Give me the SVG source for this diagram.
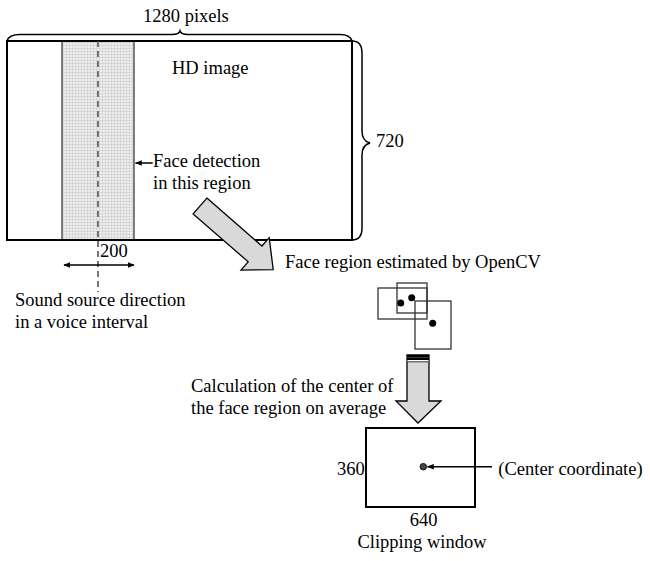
<svg xmlns="http://www.w3.org/2000/svg" width="650" height="561" viewBox="0 0 650 561">
<style>
text{font-family:"Liberation Serif","Times New Roman",serif;font-size:18.5px;fill:#000}
.mid{text-anchor:middle}
.ln{fill:none;stroke:#000;stroke-width:1.5}
.box{fill:none;stroke:#333;stroke-width:1.3}
.garrow{fill:#d9d9d9;stroke:#000;stroke-width:1.3;stroke-linejoin:miter}
</style>
<defs>
<pattern id="grid" width="3" height="3" patternUnits="userSpaceOnUse">
<rect width="3" height="3" fill="#ededed"/>
<path d="M0 0.5H3M0.5 0V3" stroke="#cbcbcb" stroke-width="0.6"/>
</pattern>
<marker id="ah" viewBox="0 0 10 10" refX="9" refY="5" markerWidth="7" markerHeight="7" orient="auto-start-reverse" markerUnits="userSpaceOnUse">
<path d="M0 1L10 5L0 9Z" fill="#000"/>
</marker>
</defs>

<g id="hd-image">
<rect x="62" y="41" width="72" height="199" fill="url(#grid)"/>
<line x1="62" y1="41" x2="62" y2="240" stroke="#555" stroke-width="1.5"/>
<line x1="134" y1="41" x2="134" y2="240" stroke="#555" stroke-width="1.5"/>
<rect x="7" y="41" width="345" height="199" fill="none" stroke="#000" stroke-width="2"/>
<text x="172" y="74">HD image</text>
</g>

<g id="width-brace">
<path class="ln" d="M7 41 Q9 34.5 20 34.5 H172 Q179 34.5 180 31 Q181 34.5 188 34.5 H340 Q350 34.5 352 41" stroke-width="1.2"/>
<text x="143" y="22">1280 pixels</text>
</g>

<g id="height-brace">
<path class="ln" d="M352 41 Q362 41 362 53 V131 Q362 141 370 143 Q362 145 362 155 V228 Q362 240 352 240" stroke-width="1.2"/>
<text x="376" y="147">720</text>
</g>

<g id="sound-direction">
<line x1="98" y1="41" x2="98" y2="292" stroke="#555" stroke-width="1.6" stroke-dasharray="6,4"/>
<text x="100" y="256.5">200</text>
<text x="15" y="306">Sound source direction</text>
<text x="15" y="328">in a voice interval</text>
</g>

<g id="face-detection-label">
<text x="153" y="167">Face detection</text>
<text x="153" y="189">in this region</text>
</g>

<g id="face-regions">
<rect class="box" x="378" y="288" width="49" height="31"/>
<rect class="box" x="397" y="283" width="30" height="30"/>
<rect class="box" x="415" y="301" width="36" height="48"/>
<circle cx="400.7" cy="303" r="3.5" fill="#000"/>
<circle cx="411.7" cy="297.7" r="3.5" fill="#000"/>
<circle cx="432.7" cy="323.3" r="3.5" fill="#000"/>
<text x="285" y="268">Face region estimated by OpenCV</text>
</g>

<g id="calculation-label">
<text x="191" y="391.5">Calculation of the center of</text>
<text x="191" y="413.5">the face region on average</text>
</g>

<g id="clipping-window">
<rect x="366" y="428" width="109" height="79" fill="none" stroke="#000" stroke-width="2"/>
<circle cx="423.3" cy="466.7" r="3.3" fill="#444" stroke="#000" stroke-width="0.8"/>
<text x="337" y="475">360</text>
<text x="423.5" y="526" class="mid">640</text>
<text x="422" y="548" class="mid">Clipping window</text>
<text x="498.3" y="475">(Center coordinate)</text>
</g>

<g id="connectors">
<line x1="152.7" y1="163" x2="135.5" y2="163" stroke="#000" stroke-width="1.5" marker-end="url(#ah)"/>
<line x1="64" y1="265" x2="134" y2="265" stroke="#000" stroke-width="1.5" marker-start="url(#ah)" marker-end="url(#ah)"/>
<line x1="492" y1="466.7" x2="427.5" y2="466.7" stroke="#000" stroke-width="1.5" marker-end="url(#ah)"/>
<path class="garrow" transform="translate(200 206) rotate(41)" d="M0 -10.5H73V-21.5L97 0L73 21.5V10.5H0Z"/>
<path class="garrow" d="M407 355H429V401H441L418 423L396 401H407Z"/>
<rect x="407" y="355" width="22" height="5" fill="#000"/>
<line x1="407" y1="357.5" x2="429" y2="357.5" stroke="#666" stroke-width="0.6"/>
<line x1="407.6" y1="360.6" x2="428.4" y2="360.6" stroke="#fff" stroke-width="1.2"/>
<line x1="407.6" y1="361.8" x2="428.4" y2="361.8" stroke="#555" stroke-width="1.2"/>
</g>
</svg>
